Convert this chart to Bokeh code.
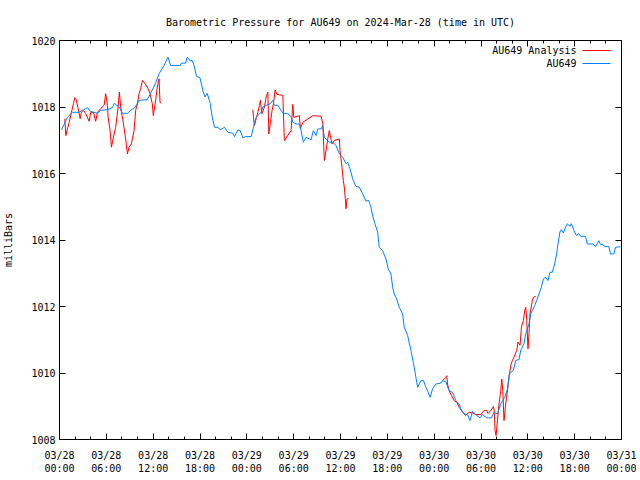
from bokeh.plotting import figure
from bokeh.models import LinearAxis, FixedTicker, Range1d, Label, BoxAnnotation
from bokeh.embed import file_html
from bokeh.resources import INLINE

# time axis: hours since 2024-03-28 00:00 UTC
obs_hours = [0.26, 1.02, 1.66, 2.5, 2.94, 3.58, 3.96, 4.86, 5.28, 6.14, 6.78, 7.03, 7.64, 8.06, 8.70,
             9.12, 9.72, 10.19, 11.25, 11.64, 12.28, 12.75, 13.39, 13.90, 14.23, 15.48, 15.60, 16.15,
             16.37, 16.79, 17.01, 17.23, 17.56, 17.99, 18.42, 18.63, 18.93, 19.31, 19.57, 19.86, 20.30,
             20.59, 21.14, 21.58, 22.21, 22.42, 22.85, 23.15, 23.49, 23.83, 24.56, 24.85, 25.19, 25.83,
             26.05, 26.47, 26.99, 27.33, 27.53, 27.97, 28.39, 28.69, 29.25, 29.67, 29.89, 30.31, 30.73,
             30.95, 31.24, 31.59, 32.23, 32.52, 32.87, 33.09, 33.51, 33.73, 33.93, 34.57, 35.00, 35.43,
             35.85, 36.28, 36.71, 36.92, 37.22, 37.56, 37.98, 38.41, 38.84, 39.26, 39.61, 39.90, 40.12,
             40.41, 40.76, 40.96, 41.40, 41.82, 42.12, 42.46, 42.68, 42.88, 43.19, 43.52, 43.96, 44.16,
             44.60, 45.02, 45.36, 45.66, 45.88, 46.30, 46.64, 46.94, 47.23, 47.49, 47.79, 48.22, 48.86,
             49.07, 49.49, 49.92, 50.35, 50.77, 51.20, 51.41, 51.84, 52.27, 52.60, 52.91, 53.33, 53.88,
             54.19, 54.74, 55.34, 55.67, 56.11, 56.53, 57.04, 57.39, 57.64, 58.15, 58.45, 58.87, 59.09,
             59.51, 59.73, 60.15, 60.37, 60.58, 60.88, 61.13, 61.43, 61.73, 61.99, 62.28, 62.58, 62.83,
             63.14, 63.43, 63.69, 63.86, 64.11, 64.29, 64.55, 64.84, 65.06, 65.39, 65.57, 65.90, 66.21,
             66.54, 66.76, 67.40, 67.62, 68.38, 68.68, 69.10, 69.32, 69.66, 69.83, 70.38, 70.60, 71.02,
             71.24, 71.88]
obs_mb = [1017.31, 1017.69, 1017.84, 1017.84, 1017.90, 1017.98, 1017.87, 1017.81, 1017.90, 1017.92,
          1017.98, 1018.11, 1018.00, 1017.81, 1017.81, 1017.90, 1018.00, 1018.20, 1018.22, 1018.40,
          1018.70, 1019.00, 1019.25, 1019.50, 1019.25, 1019.25, 1019.32, 1019.32, 1019.50, 1019.38,
          1019.40, 1019.25, 1018.92, 1018.88, 1018.45, 1018.30, 1018.41, 1018.10, 1017.69, 1017.39,
          1017.39, 1017.31, 1017.39, 1017.24, 1017.21, 1017.11, 1017.31, 1017.29, 1017.07, 1017.11,
          1017.11, 1017.39, 1017.69, 1017.84, 1018.00, 1018.05, 1018.10, 1018.20, 1018.05, 1018.05,
          1017.90, 1017.80, 1017.80, 1017.71, 1017.54, 1017.49, 1017.49, 1017.29, 1016.94, 1017.09,
          1017.01, 1017.29, 1017.14, 1017.34, 1017.34, 1017.44, 1017.09, 1016.94, 1016.94, 1016.84,
          1016.59, 1016.49, 1016.29, 1016.34, 1016.14, 1015.84, 1015.61, 1015.59, 1015.39, 1015.17,
          1015.19, 1014.99, 1014.72, 1014.49, 1014.24, 1013.78, 1013.68, 1013.43, 1013.13, 1012.98,
          1012.58, 1012.38, 1012.23, 1011.98, 1011.78, 1011.38, 1011.13, 1010.68, 1010.28, 1009.87,
          1009.57, 1009.77, 1009.77, 1009.57, 1009.42, 1009.27, 1009.52, 1009.67, 1009.70, 1009.77,
          1009.74, 1009.47, 1009.42, 1009.17, 1009.07, 1008.92, 1008.77, 1008.75, 1008.57, 1008.85,
          1008.75, 1008.65, 1008.75, 1008.65, 1008.65, 1008.82, 1008.77, 1009.07, 1009.27, 1009.52,
          1009.98, 1010.08, 1010.38, 1010.40, 1010.68, 1010.88, 1011.18, 1011.48, 1011.78, 1011.88,
          1012.03, 1012.18, 1012.38, 1012.58, 1012.83, 1012.88, 1012.78, 1013.03, 1013.03, 1013.28,
          1013.58, 1013.88, 1014.24, 1014.31, 1014.21, 1014.39, 1014.49, 1014.41, 1014.49, 1014.29,
          1014.14, 1014.19, 1014.11, 1014.11, 1013.88, 1013.88, 1013.80, 1013.98, 1013.86, 1013.86,
          1013.80, 1013.80, 1013.58, 1013.58, 1013.78, 1013.80]

ana1_hours = [0.68, 0.81, 1.02, 1.24, 1.53, 1.79, 1.96, 2.14, 2.39, 2.65, 2.81, 3.07, 3.36, 3.80, 4.00,
              4.35, 4.64, 4.86, 5.28, 5.72, 5.92, 6.14, 6.23, 6.48, 6.65, 6.91, 7.20, 7.51, 7.67, 7.84,
              8.19, 8.48, 8.70, 8.91, 9.21, 9.55, 9.76, 9.98, 10.19, 10.40, 10.62, 10.91, 11.25, 11.60,
              11.89, 12.02, 12.32, 12.53, 12.75, 12.88, 13.05]
ana1_mb = [1017.65, 1017.14, 1017.34, 1017.54, 1017.84, 1018.10, 1018.28, 1018.22, 1017.95, 1017.65,
           1017.84, 1017.90, 1017.80, 1017.57, 1017.84, 1017.84, 1017.57, 1017.84, 1017.95, 1018.05,
           1018.40, 1018.05, 1017.69, 1017.29, 1016.79, 1017.09, 1017.39, 1018.00, 1018.45, 1018.00,
           1017.49, 1017.04, 1016.59, 1016.79, 1016.89, 1017.29, 1017.90, 1018.10, 1018.40, 1018.55,
           1018.80, 1018.72, 1018.60, 1018.40, 1018.10, 1017.74, 1018.20, 1018.60, 1018.85, 1018.14,
           1018.11]

ana2_hours = [24.77, 24.85, 24.98, 25.19, 25.41, 25.62, 25.74, 25.92, 26.26, 26.47, 26.69, 26.82, 26.99,
              27.24, 27.41, 27.63, 27.85, 28.61, 28.81, 29.67, 29.89, 30.02, 30.73, 30.86, 31.17, 32.45,
              33.51, 33.73, 33.86, 33.93, 34.15, 34.37, 34.57, 34.72, 34.91, 35.21, 35.85, 35.94, 36.19,
              36.36, 36.49, 36.62, 36.71, 36.84, 37.03]
ana2_mb = [1017.92, 1017.69, 1017.44, 1017.65, 1017.84, 1018.05, 1018.20, 1017.80, 1018.00, 1018.30,
           1018.45, 1017.19, 1017.49, 1017.90, 1018.10, 1018.52, 1018.38, 1018.35, 1016.99, 1017.29,
           1018.08, 1017.69, 1017.74, 1017.35, 1017.54, 1017.74, 1017.72, 1017.50, 1016.79, 1016.39,
           1016.69, 1017.04, 1017.29, 1017.10, 1016.89, 1016.99, 1017.04, 1016.69, 1016.19, 1015.79,
           1015.59, 1015.24, 1014.94, 1015.24, 1015.24]

ana3_hours = [49.07, 49.49, 49.62, 49.71, 49.92, 50.22, 50.56, 50.90, 51.20, 51.63, 52.05, 52.47, 52.91,
              53.33, 53.97, 54.39, 54.74, 54.90, 55.25, 55.59, 55.70, 55.80, 55.93, 56.11, 56.31, 56.53,
              56.66, 56.79, 56.95, 57.17, 57.39, 57.59, 57.81, 58.03, 58.23, 58.58, 58.74, 59.00, 59.18,
              59.43, 59.60, 59.73, 59.86, 60.02, 60.15, 60.28, 60.58, 60.71, 61.01]
ana3_mb = [1009.77, 1009.87, 1009.92, 1009.67, 1009.47, 1009.32, 1009.17, 1009.12, 1008.97, 1008.82,
           1008.72, 1008.82, 1008.80, 1008.75, 1008.75, 1008.87, 1008.87, 1008.78, 1008.87, 1008.99,
           1008.85, 1008.27, 1008.12, 1008.57, 1009.07, 1009.47, 1009.82, 1009.47, 1008.57, 1009.07,
           1009.47, 1009.87, 1010.23, 1010.38, 1010.48, 1010.68, 1010.93, 1010.83, 1011.38, 1011.58,
           1011.88, 1011.98, 1011.58, 1010.73, 1011.18, 1011.78, 1012.18, 1012.28, 1012.30]

x_tick_hours = [0, 6, 12, 18, 24, 30, 36, 42, 48, 54, 60, 66, 72]
x_tick_labels = ["03/28\n00:00", "03/28\n06:00", "03/28\n12:00", "03/28\n18:00",
                 "03/29\n00:00", "03/29\n06:00", "03/29\n12:00", "03/29\n18:00",
                 "03/30\n00:00", "03/30\n06:00", "03/30\n12:00", "03/30\n18:00",
                 "03/31\n00:00"]
x_minor_hours = list(range(0, 73, 2))
y_ticks = [1008, 1010, 1012, 1014, 1016, 1018, 1020]

TITLE = "Barometric Pressure for AU649 on 2024-Mar-28 (time in UTC)"
FONT = "DejaVu Sans Mono"
FS = "10px"
RED = "#ff0000"
BLUE = "#0080ff"

p = figure(width=636, height=476, output_backend="svg", toolbar_location=None,
           x_range=Range1d(0, 72), y_range=Range1d(1008, 1020),
           min_border_left=58, min_border_right=15, min_border_top=40, min_border_bottom=37,
           x_axis_type=None, y_axis_type=None)
p.grid.visible = False
p.outline_line_color = "black"
p.outline_line_width = 1
p.background_fill_color = "white"
p.border_fill_color = "white"

p.title.text = TITLE
p.title.align = "center"
p.title.text_font = FONT
p.title.text_font_size = FS
p.title.text_font_style = "normal"
p.title.text_color = "black"
p.title.standoff = 26

xt = FixedTicker(ticks=x_tick_hours, minor_ticks=x_minor_hours)
yt = FixedTicker(ticks=y_ticks, minor_ticks=[])


def style(ax, labels=True):
    ax.axis_line_color = "black"
    ax.major_tick_line_color = "black"
    ax.minor_tick_line_color = "black"
    ax.major_tick_in = 6
    ax.major_tick_out = 0
    ax.minor_tick_in = 3
    ax.minor_tick_out = 0
    ax.major_label_text_font = FONT
    ax.major_label_text_font_size = FS if labels else "0px"
    ax.major_label_text_color = "black" if labels else None
    ax.axis_label_text_font = FONT
    ax.axis_label_text_font_size = FS
    ax.axis_label_text_font_style = "normal"
    ax.axis_label_text_color = "black"


xb = LinearAxis(ticker=xt, major_label_overrides={h: s for h, s in zip(x_tick_hours, x_tick_labels)})
style(xb)
xb.major_label_standoff = 10
p.add_layout(xb, "below")

xa = LinearAxis(ticker=xt)
style(xa, labels=False)
xa.major_label_standoff = 0
p.add_layout(xa, "above")

yl = LinearAxis(ticker=yt, axis_label="milliBars")
style(yl)
yl.major_label_standoff = 4
yl.axis_label_standoff = 14
p.add_layout(yl, "left")

yr = LinearAxis(ticker=yt)
style(yr, labels=False)
yr.major_label_standoff = 0
p.add_layout(yr, "right")

p.line(ana1_hours, ana1_mb, line_color=RED, line_width=1)
p.line(ana2_hours, ana2_mb, line_color=RED, line_width=1)
p.line(ana3_hours, ana3_mb, line_color=RED, line_width=1)
p.line(obs_hours, obs_mb, line_color=BLUE, line_width=1)

# gnuplot-style key: text right-aligned, sample line to the right
for txt, col, yy in [("AU649 Analysis", RED, 389), ("AU649", BLUE, 376)]:
    p.add_layout(Label(x=517, y=yy, x_units="screen", y_units="screen", text=txt,
                       text_align="right", text_baseline="middle",
                       text_font=FONT, text_font_size=FS, text_color="black"))
    p.add_layout(BoxAnnotation(left=523, right=551, bottom=yy - 0.5, top=yy + 0.5,
                               left_units="screen", right_units="screen",
                               bottom_units="screen", top_units="screen",
                               fill_color=col, fill_alpha=1.0, line_color=None))

open("out.html", "w").write(file_html(p, INLINE))
